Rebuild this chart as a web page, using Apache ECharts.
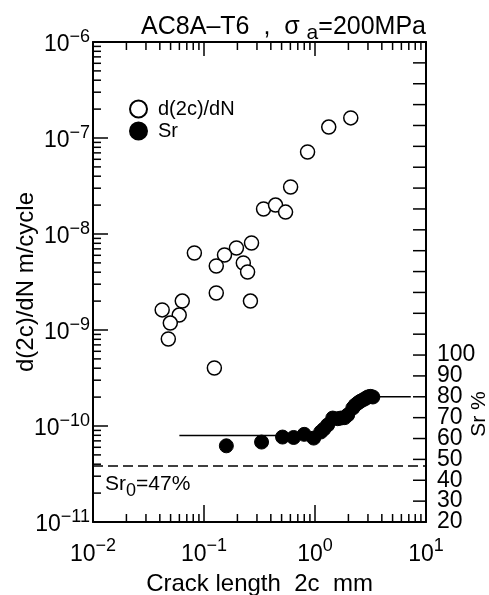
<!DOCTYPE html>
<html>
<head>
<meta charset="utf-8">
<script src="https://cdn.jsdelivr.net/npm/echarts@6/dist/echarts.min.js"></script>
<style>
  html, body { margin: 0; padding: 0; background: #fff; }
  #chart { width: 489px; height: 595px; }
</style>
</head>
<body>
<div id="chart"></div>
<script>
// crack growth rate d(2c)/dN (open circles)
const rateX = [2.10, 1.33, 0.857, 0.603, 0.344, 0.441, 0.543, 0.0819, 0.268, 0.196, 0.153,
  0.129, 0.226, 0.247, 0.129, 0.262, 0.0637, 0.042, 0.0598, 0.0497, 0.0477, 0.124];
const rateY = [1.62e-7, 1.30e-7, 7.15e-8, 3.09e-8, 1.82e-8, 2.0e-8, 1.69e-8, 6.34e-9, 8.05e-9, 7.15e-9, 6.04e-9,
  4.64e-9, 4.99e-9, 4.02e-9, 2.43e-9, 2.0e-9, 2.0e-9, 1.62e-9, 1.43e-9, 1.18e-9, 8.06e-10, 4.02e-10];

// Sr % (filled circles)
const srX = [0.159, 0.33, 0.51, 0.642, 0.80, 0.973, 1.125, 1.2, 1.30, 1.445, 1.6, 1.71,
  1.85, 1.97, 2.19, 2.3, 2.43, 2.55, 2.70, 2.85, 2.99, 3.15, 3.32];
const srY = [56.5, 58.3, 60.7, 60.5, 62.0, 60.2, 63.1, 64.5, 66.5, 69.8, 69.5, 69.8,
  70.0, 71.3, 74.6, 76.0, 77.0, 77.8, 78.5, 79.2, 79.9, 80.2, 79.9];

// trend lines through the Sr points
const trendLowX = [0.06, 1.0];
const trendLowY = [61.5, 61.5];
const trendHighX = [3.3, 7.3];
const trendHighY = [80, 80];

const sr0 = 47;

// axes
const xTicks = [0.01, 0.1, 1, 10];
const yTicks = [1e-11, 1e-10, 1e-9, 1e-8, 1e-7, 1e-6];
const srTicks = [20, 30, 40, 50, 60, 70, 80, 90, 100];
const srMax = 250;
const srStep = 10;

const FONT = 'Liberation Sans';

// tick positions (decades, 2..9 inside each decade, Sr every 10 %)
const minorX = [];
for (let i = 0; i < xTicks.length - 1; i++) {
  for (let k = 2; k <= 9; k++) minorX.push(k * xTicks[i]);
}
const minorY = [];
for (let i = 0; i < yTicks.length - 1; i++) {
  for (let k = 2; k <= 9; k++) minorY.push(k * yTicks[i]);
}
const srTickAll = [];
for (let v = srTicks[0]; v <= srMax; v += srStep) srTickAll.push(v);

function powLabel(v, ticks) {
  let e = v > 0 ? Math.round(Math.log10(v)) : Math.round(Math.log10(ticks[0]));
  return '{b|10}{s|' + (e < 0 ? '\u2212' + (-e) : e) + '}';
}

const powRich = {
  b: { fontSize: 23, fontFamily: FONT, color: '#000', padding: [6, 0, 0, 0] },
  s: { fontSize: 18, fontFamily: FONT, color: '#000', padding: [0, 0, 10, 0] }
};

const chart = echarts.init(document.getElementById('chart'));

const axisLine = { show: true, lineStyle: { color: '#000', width: 2 } };
const tickStyle = { stroke: '#000', lineWidth: 1.5 };

// x ticks: bottom (lenBottom) and top (lenTop)
function xTickSeries(name, values, lenBottom, lenTop) {
  return {
    name: name,
    type: 'custom',
    xAxisIndex: 0, yAxisIndex: 0,
    silent: true,
    clip: false,
    data: values.map(v => [v, yTicks[2]]),
    renderItem: (params, api) => {
      const cs = params.coordSys;
      const x = api.coord([api.value(0), api.value(1)])[0];
      return {
        type: 'group',
        children: [
          { type: 'line', shape: { x1: x, y1: cs.y + cs.height, x2: x, y2: cs.y + cs.height - lenBottom }, style: tickStyle },
          { type: 'line', shape: { x1: x, y1: cs.y, x2: x, y2: cs.y + lenTop }, style: tickStyle }
        ]
      };
    }
  };
}

// y ticks on the left (log axis) or right (Sr axis)
function yTickSeries(name, values, axisIdx, len, onRight) {
  return {
    name: name,
    type: 'custom',
    xAxisIndex: 0, yAxisIndex: axisIdx,
    silent: true,
    clip: false,
    data: values.map(v => [xTicks[1], v]),
    renderItem: (params, api) => {
      const cs = params.coordSys;
      const y = api.coord([api.value(0), api.value(1)])[1];
      const x0 = onRight ? cs.x + cs.width : cs.x;
      const x1 = onRight ? x0 - len : x0 + len;
      return { type: 'line', shape: { x1: x0, y1: y, x2: x1, y2: y }, style: tickStyle };
    }
  };
}

// right Sr axis; the lowest label (20) sits on its own axis so it never hides "30"
function srAxis(showLabel, showMin) {
  return {
    type: 'value',
    min: srTicks[0], max: srMax, interval: srStep,
    position: 'right',
    axisLine: showMin ? { show: false } : axisLine,
    axisTick: { show: false },
    splitLine: { show: false },
    axisLabel: {
      show: true,
      showMinLabel: showMin,
      hideOverlap: false,
      margin: 11,
      fontSize: 23,
      fontFamily: FONT,
      color: '#000',
      formatter: v => (showLabel(v) ? String(v) : '')
    }
  };
}

chart.setOption({
  animation: false,
  backgroundColor: '#fff',
  title: {
    text: '{t|AC8A\u2013T6  ,  \u03c3 }{u|a}{t|=200MPa}',
    right: 58,
    top: 6,
    textStyle: {
      fontWeight: 'normal',
      rich: {
        t: { fontSize: 25, fontFamily: FONT, fontWeight: 'normal', color: '#000' },
        u: { fontSize: 21, fontFamily: FONT, fontWeight: 'normal', color: '#000', padding: [12, 0, 0, 0] }
      }
    }
  },
  legend: {
    data: ['d(2c)/dN', 'Sr'],
    orient: 'vertical',
    left: 124,
    top: 94,
    itemWidth: 17,
    itemHeight: 17,
    itemGap: 2,
    textStyle: { fontSize: 20, fontFamily: FONT, color: '#000', padding: [0, 0, 0, 6] }
  },
  grid: { left: 93, top: 42, right: 63, bottom: 73, containLabel: false, outerBoundsMode: 'none' },
  xAxis: [
    {
      type: 'log', logBase: 10,
      min: xTicks[0], max: xTicks[xTicks.length - 1], interval: 1,
      position: 'bottom',
      axisLine: axisLine,
      axisTick: { show: false },
      splitLine: { show: false },
      axisLabel: {
        margin: 15,
        formatter: v => powLabel(v, xTicks),
        rich: powRich
      },
      name: 'Crack length  2c  mm',
      nameLocation: 'middle',
      nameGap: 50,
      nameTextStyle: { fontSize: 24, fontFamily: FONT, color: '#000' }
    },
    {
      type: 'log', logBase: 10,
      min: xTicks[0], max: xTicks[xTicks.length - 1], interval: 1,
      position: 'top',
      axisLine: axisLine,
      axisTick: { show: false },
      splitLine: { show: false },
      axisLabel: { show: false }
    }
  ],
  yAxis: [
    {
      type: 'log', logBase: 10,
      min: yTicks[0], max: yTicks[yTicks.length - 1], interval: 1,
      position: 'left',
      axisLine: axisLine,
      axisTick: { show: false },
      splitLine: { show: false },
      axisLabel: {
        margin: 3,
        formatter: v => powLabel(v, yTicks),
        rich: powRich
      },
      name: 'd(2c)/dN m/cycle',
      nameLocation: 'middle',
      nameGap: 55,
      nameMoveOverlap: false,
      nameRotate: 90,
      nameTextStyle: { fontSize: 24, fontFamily: FONT, color: '#000' }
    },
    srAxis(v => v > srTicks[0] && v <= srTicks[srTicks.length - 1], false),
    srAxis(v => v === srTicks[0], true)
  ],
  graphic: [
    {
      type: 'text',
      x: 479, y: 414,
      rotation: Math.PI / 2,
      style: { text: 'Sr %', fontSize: 21, fontFamily: FONT, fill: '#000', align: 'center', verticalAlign: 'middle' }
    }
  ],
  series: [
    {
      name: 'd(2c)/dN',
      type: 'scatter',
      xAxisIndex: 0, yAxisIndex: 0,
      symbol: 'circle',
      symbolSize: 14,
      itemStyle: { color: '#fff', borderColor: '#000', borderWidth: 1.5, opacity: 1 },
      data: rateX.map((x, i) => [x, rateY[i]]),
      z: 3
    },
    {
      name: 'trend',
      type: 'line',
      xAxisIndex: 0, yAxisIndex: 1,
      symbol: 'none',
      lineStyle: { color: '#000', width: 1.5 },
      data: trendLowX.map((x, i) => [x, trendLowY[i]]).concat(['-'], trendHighX.map((x, i) => [x, trendHighY[i]])),
      z: 2
    },
    {
      name: 'Sr',
      type: 'scatter',
      xAxisIndex: 0, yAxisIndex: 1,
      symbol: 'circle',
      symbolSize: 14,
      itemStyle: { color: '#000', borderColor: '#000', borderWidth: 1, opacity: 1 },
      data: srX.map((x, i) => [x, srY[i]]),
      z: 4,
      markLine: {
        silent: true,
        symbol: 'none',
        lineStyle: { color: '#000', width: 1.5, type: [10, 5] },
        label: {
          show: true,
          position: 'insideStartBottom',
          distance: [12, 4],
          formatter: '{a|Sr}{u|0}{a|=47%}',
          rich: {
            a: { fontSize: 21, fontFamily: FONT, color: '#000' },
            u: { fontSize: 18, fontFamily: FONT, color: '#000', padding: [12, 0, 0, 0] }
          }
        },
        data: [{ yAxis: sr0 }]
      }
    },
    xTickSeries('majorX', xTicks, 17, 14),
    xTickSeries('minorX', minorX, 8, 8),
    yTickSeries('majorY', yTicks, 0, 15, false),
    yTickSeries('minorY', minorY, 0, 8, false),
    yTickSeries('srTicks', srTickAll, 1, 13, true)
  ]
});
</script>
</body>
</html>
